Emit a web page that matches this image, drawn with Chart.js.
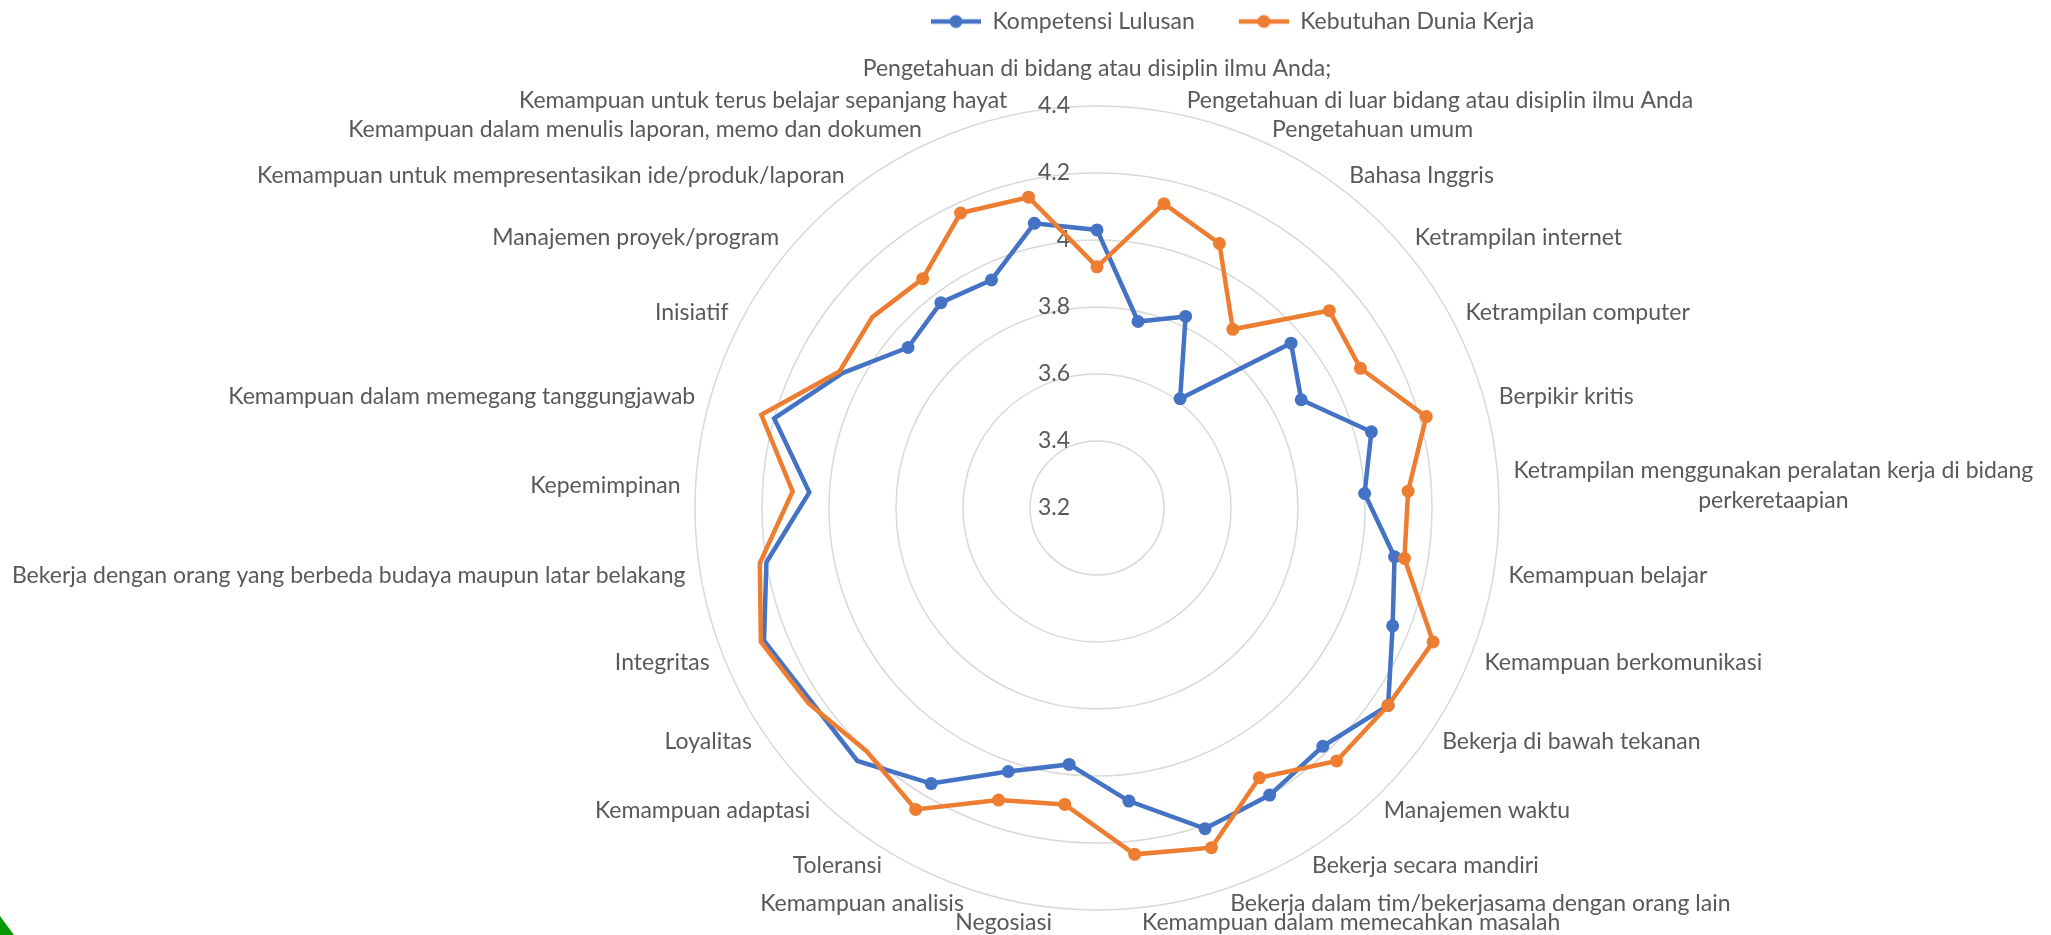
<!DOCTYPE html>
<html>
<head>
<meta charset="utf-8">
<script src="https://cdn.jsdelivr.net/npm/chart.js"></script>
<style>
  html, body { margin: 0; padding: 0; background: #fff; }
  #wrap { position: relative; width: 2051px; height: 935px; overflow: hidden; }
  #corner { position: absolute; left: 0; bottom: 0; width: 0; height: 0;
            border-left: 14px solid #079a07; border-top: 19px solid transparent; }
</style>
</head>
<body>
<div id="wrap">
  <canvas id="radarChart" width="2051" height="935"></canvas>
  <div id="corner"></div>
</div>
<script>
// categories, clockwise from the top
const categories = [
  'Pengetahuan di bidang atau disiplin ilmu Anda;',
  'Pengetahuan di luar bidang atau disiplin ilmu Anda',
  'Pengetahuan umum',
  'Bahasa Inggris',
  'Ketrampilan internet',
  'Ketrampilan computer',
  'Berpikir kritis',
  ['Ketrampilan menggunakan peralatan kerja di bidang', 'perkeretaapian'],
  'Kemampuan belajar',
  'Kemampuan berkomunikasi',
  'Bekerja di bawah tekanan',
  'Manajemen waktu',
  'Bekerja secara mandiri',
  'Bekerja dalam tim/bekerjasama dengan orang lain',
  'Kemampuan dalam memecahkan masalah',
  'Negosiasi',
  'Kemampuan analisis',
  'Toleransi',
  'Kemampuan adaptasi',
  'Loyalitas',
  'Integritas',
  'Bekerja dengan orang yang berbeda budaya maupun latar belakang',
  'Kepemimpinan',
  'Kemampuan dalam memegang tanggungjawab',
  'Inisiatif',
  'Manajemen proyek/program',
  'Kemampuan untuk mempresentasikan ide/produk/laporan',
  'Kemampuan dalam menulis laporan, memo dan dokumen',
  'Kemampuan untuk terus belajar sepanjang hayat'
];

const kompetensiLulusan = [4.03, 3.77, 3.83, 3.61, 3.96, 3.89, 4.05, 4.00, 4.10, 4.15,
  4.25, 4.18, 4.20, 4.21, 4.08, 3.97, 4.03, 4.16, 4.24, 4.23,
  4.27, 4.20, 4.06, 4.20, 4.06, 3.94, 3.97, 3.95, 4.07];

const kebutuhanDuniaKerja = [3.92, 4.13, 4.07, 3.87, 4.11, 4.09, 4.22, 4.13, 4.13, 4.28,
  4.25, 4.24, 4.14, 4.27, 4.24, 4.09, 4.12, 4.25, 4.20, 4.24,
  4.28, 4.22, 4.11, 4.24, 4.07, 4.08, 4.06, 4.17, 4.15];

const tickValues = [3.2, 3.4, 3.6, 3.8, 4, 4.2, 4.4];

const BLUE = '#4472C4';
const ORANGE = '#ED7D31';
const TEXT = '#595959';
const FONT = '23px Lato';

// legend swatch: line with a round marker (left part left blank as spacing)
function legendSwatch(color) {
    var c = document.createElement('canvas');
    c.width = 84;
    c.height = 16;
    var g = c.getContext('2d');
    g.strokeStyle = color;
    g.lineWidth = 4.5;
    g.beginPath();
    g.moveTo(34, 8);
    g.lineTo(84, 8);
    g.stroke();
    g.fillStyle = color;
    g.beginPath();
    g.arc(59, 8, 6.5, 0, Math.PI * 2);
    g.fill();
    return c;
}
const swatches = [legendSwatch(BLUE), legendSwatch(ORANGE)];

// put the radar where the original has it
const placeRadar = {
    id: 'placeRadar',
    afterLayout(chart) {
        var s = chart.scales.r;
        s.xCenter = 1097;
        s.yCenter = 508;
        s.drawingArea = 402;
    },
    beforeDatasetsDraw(chart) {
        var s = chart.scales.r, ctx = chart.ctx;
        ctx.save();
        ctx.font = FONT;
        ctx.fillStyle = TEXT;
        ctx.textAlign = 'right';
        ctx.textBaseline = 'middle';
        tickValues.forEach(v => {
            ctx.fillText(String(v), s.xCenter - 27, s.yCenter - s.getDistanceFromCenterForValue(v));
        });
        ctx.restore();
    },
    afterDraw(chart) {
        var s = chart.scales.r, ctx = chart.ctx;
        var n = categories.length;
        ctx.save();
        ctx.font = FONT;
        ctx.fillStyle = TEXT;
        ctx.textAlign = 'center';
        ctx.textBaseline = 'middle';
        categories.forEach((lab, i) => {
            var lines = Array.isArray(lab) ? lab : [lab];
            var p = s.getPointPosition(i, s.drawingArea + 15 + (i === 0 ? 22 : 0));
            var bw = Math.max(...lines.map(l => ctx.measureText(l).width));
            var left = p.x - bw / 2;
            if (i > 0 && i < n / 2) left = p.x;
            if (i > n / 2) left = p.x - bw;
            lines.forEach((l, k) => {
                ctx.fillText(l, left + bw / 2, p.y + (k - (lines.length - 1) / 2) * 30);
            });
        });
        ctx.restore();
    }
};

new Chart(document.getElementById('radarChart'), {
    type: 'radar',
    data: {
        labels: categories,
        datasets: [{
            label: 'Kompetensi Lulusan',
            data: kompetensiLulusan,
            borderColor: BLUE,
            backgroundColor: BLUE,
            pointBackgroundColor: BLUE,
            borderWidth: 4.5,
            pointRadius: 6.5,
            pointBorderWidth: 0,
            fill: false,
            clip: false,
            order: 1
        },
        {
            label: 'Kebutuhan Dunia Kerja',
            data: kebutuhanDuniaKerja,
            borderColor: ORANGE,
            backgroundColor: ORANGE,
            pointBackgroundColor: ORANGE,
            borderWidth: 4.5,
            pointRadius: 6.5,
            pointBorderWidth: 0,
            fill: false,
            clip: false,
            order: 0
        }]
    },
    options: {
        responsive: false,
        animation: false,
        devicePixelRatio: 1,
        layout: { padding: { left: 887 } },
        elements: { line: { tension: 0 } },
        plugins: {
            tooltip: { enabled: false },
            legend: {
                position: 'top',
                align: 'start',
                labels: {
                    usePointStyle: true,
                    pointStyleWidth: 84,
                    padding: 10,
                    color: TEXT,
                    font: { family: 'Lato', size: 23 },
                    generateLabels: (chart) => chart.data.datasets.map((ds, i) => ({
                        text: ds.label,
                        pointStyle: swatches[i],
                        fillStyle: ds.borderColor,
                        strokeStyle: ds.borderColor,
                        lineWidth: 0,
                        hidden: false,
                        fontColor: TEXT,
                        datasetIndex: i
                    }))
                }
            }
        },
        scales: {
            r: {
                min: 3.2,
                max: 4.4,
                ticks: { stepSize: 0.2, display: false },
                grid: { circular: true, color: '#d9d9d9', lineWidth: 1.5 },
                angleLines: { display: false },
                pointLabels: { display: false }
            }
        }
    },
    plugins: [placeRadar]
});
</script>
</body>
</html>
